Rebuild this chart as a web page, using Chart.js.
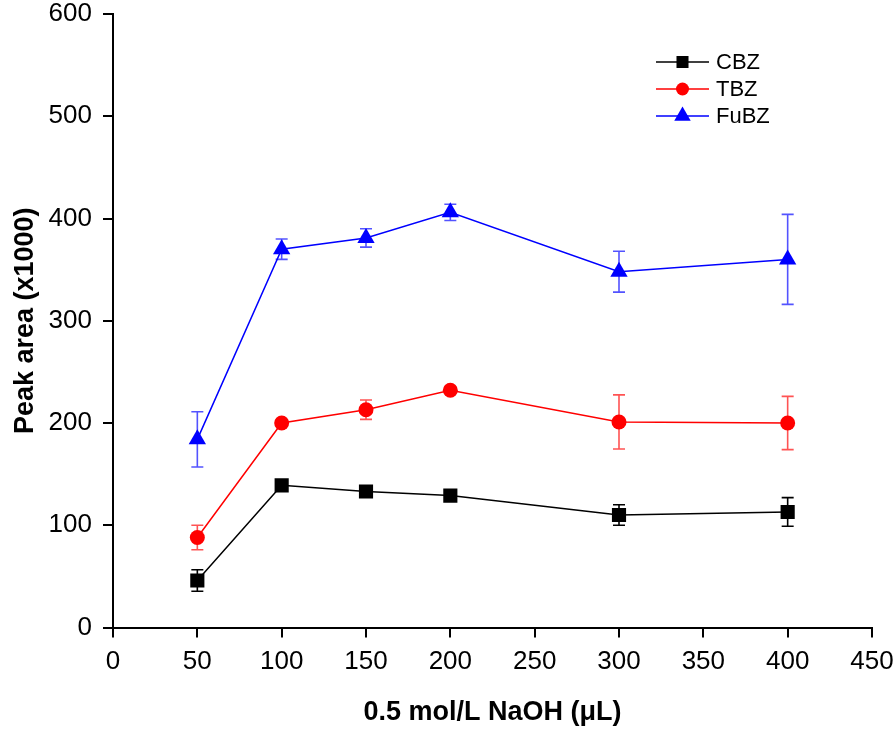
<!DOCTYPE html>
<html>
<head>
<meta charset="utf-8">
<title>Peak area vs NaOH volume</title>
<script src="https://cdn.jsdelivr.net/npm/chart.js@4.4.1/dist/chart.umd.min.js"></script>
<style>
    html, body { margin: 0; padding: 0; background: #fff; }
    #wrap { width: 896px; height: 729px; }
</style>
</head>
<body>
<div id="wrap"><canvas id="peakChart"></canvas></div>
<script>
// values (peak area x1000)
const naohVolumes = [50, 100, 150, 200, 300, 400];
const cbzArea = [46, 139, 133, 129, 110, 113];
const cbzErr = [10.5, 3, 3, 3, 10, 14];
const tbzArea = [88, 200, 213, 232, 201, 200];
const tbzErr = [12, 3, 9.5, 3, 26.5, 26];
const fubzArea = [184, 370, 381, 406, 348, 360];
const fubzErr = [27, 10, 9, 8, 20, 44];

const seriesNames = ['CBZ', 'TBZ', 'FuBZ'];
const xTitle = '0.5 mol/L NaOH (\u03bcL)';
const yTitle = 'Peak area (x1000)';

const FONT = "'Liberation Sans', Arial, sans-serif";

function points(values) {
    return naohVolumes.map((v, i) => ({ x: v, y: values[i] }));
}

// error bars go under the markers
const errorBars = {
    id: 'errorBars',
    beforeDatasetsDraw(chart) {
        const { ctx, scales: { x, y } } = chart;
        ctx.save();
        chart.data.datasets.forEach(ds => {
            ctx.strokeStyle = ds.errorColor;
            ctx.lineWidth = 1.6;
            ds.errors.forEach((e, j) => {
                const p = ds.data[j];
                const px = x.getPixelForValue(p.x);
                const top = y.getPixelForValue(p.y + e);
                const bot = y.getPixelForValue(p.y - e);
                ctx.beginPath();
                ctx.moveTo(px, top); ctx.lineTo(px, bot);
                ctx.moveTo(px - 6, top); ctx.lineTo(px + 6, top);
                ctx.moveTo(px - 6, bot); ctx.lineTo(px + 6, bot);
                ctx.stroke();
            });
        });
        ctx.restore();
    }
};

// legend in the style of the original: short line with the marker on it
const lineLegend = {
    id: 'lineLegend',
    afterDraw(chart) {
        const ctx = chart.ctx;
        const x0 = 656, x1 = 709, rowY = [62, 89, 116];
        ctx.save();
        chart.data.datasets.forEach((ds, i) => {
            const yy = rowY[i];
            ctx.strokeStyle = ds.borderColor;
            ctx.lineWidth = 1.5;
            ctx.beginPath();
            ctx.moveTo(x0, yy); ctx.lineTo(x1, yy);
            ctx.stroke();
            ctx.fillStyle = ds.pointBackgroundColor;
            ctx.strokeStyle = ds.pointBackgroundColor;
            Chart.helpers.drawPoint(ctx, {
                pointStyle: ds.pointStyle,
                radius: ds.legendRadius,
                rotation: 0,
                borderWidth: 0
            }, (x0 + x1) / 2, yy);
            ctx.fillStyle = '#000';
            ctx.font = '22px ' + FONT;
            ctx.textAlign = 'left';
            ctx.textBaseline = 'middle';
            ctx.fillText(ds.label, 716, yy + 1);
        });
        ctx.restore();
    }
};

const ctx = document.getElementById('peakChart').getContext('2d');
new Chart(ctx, {
    type: 'scatter',
    data: {
        datasets: [
            {
                label: seriesNames[0],
                data: points(cbzArea),
                errors: cbzErr,
                errorColor: '#000000',
                showLine: true,
                borderColor: '#000000',
                borderWidth: 1.5,
                pointStyle: 'rect',
                pointRadius: 10,
                legendRadius: 8.5,
                pointBackgroundColor: '#000000',
                pointBorderWidth: 0
            },
            {
                label: seriesNames[1],
                data: points(tbzArea),
                errors: tbzErr,
                errorColor: 'rgba(255, 40, 40, 0.8)',
                showLine: true,
                borderColor: '#ff0000',
                borderWidth: 1.5,
                pointStyle: 'circle',
                pointRadius: 7.5,
                legendRadius: 6.5,
                pointBackgroundColor: '#ff0000',
                pointBorderWidth: 0
            },
            {
                label: seriesNames[2],
                data: points(fubzArea),
                errors: fubzErr,
                errorColor: 'rgba(40, 40, 255, 0.8)',
                showLine: true,
                borderColor: '#0000ff',
                borderWidth: 1.5,
                pointStyle: 'triangle',
                pointRadius: 10,
                legendRadius: 9.5,
                pointBackgroundColor: '#0000ff',
                pointBorderWidth: 0
            }
        ]
    },
    options: {
        responsive: true,
        maintainAspectRatio: false,
        animation: false,
        layout: { padding: { top: 14, right: 24, left: 0, bottom: 0 } },
        plugins: {
            legend: { display: false },
            tooltip: { enabled: false }
        },
        scales: {
            x: {
                type: 'linear',
                min: 0,
                max: 450,
                afterFit(scale) {
                    scale.height = 101.5;
                    scale.paddingLeft = 0;
                    scale.paddingRight = 0;
                },
                ticks: {
                    stepSize: 50,
                    color: '#000',
                    padding: 9,
                    maxRotation: 0,
                    font: { family: FONT, size: 26 }
                },
                grid: {
                    drawOnChartArea: false,
                    drawTicks: true,
                    tickLength: 10,
                    color: '#000',
                    lineWidth: 2
                },
                border: { display: true, color: '#000', width: 2 },
                title: {
                    display: true,
                    text: xTitle,
                    color: '#000',
                    padding: { top: 0, bottom: 0 },
                    font: { family: FONT, size: 27, weight: 'bold' }
                }
            },
            y: {
                min: 0,
                max: 600,
                afterFit(scale) {
                    scale.width = 113;
                    scale.paddingTop = 0;
                    scale.paddingBottom = 0;
                },
                ticks: {
                    stepSize: 100,
                    color: '#000',
                    padding: 11,
                    font: { family: FONT, size: 26 }
                },
                grid: {
                    drawOnChartArea: false,
                    drawTicks: true,
                    tickLength: 10,
                    color: '#000',
                    lineWidth: 2
                },
                border: { display: true, color: '#000', width: 2 },
                title: {
                    display: true,
                    text: yTitle,
                    color: '#000',
                    padding: { top: 9, bottom: 0 },
                    font: { family: FONT, size: 27, weight: 'bold' }
                }
            }
        }
    },
    plugins: [errorBars, lineLegend]
});
</script>
</body>
</html>
